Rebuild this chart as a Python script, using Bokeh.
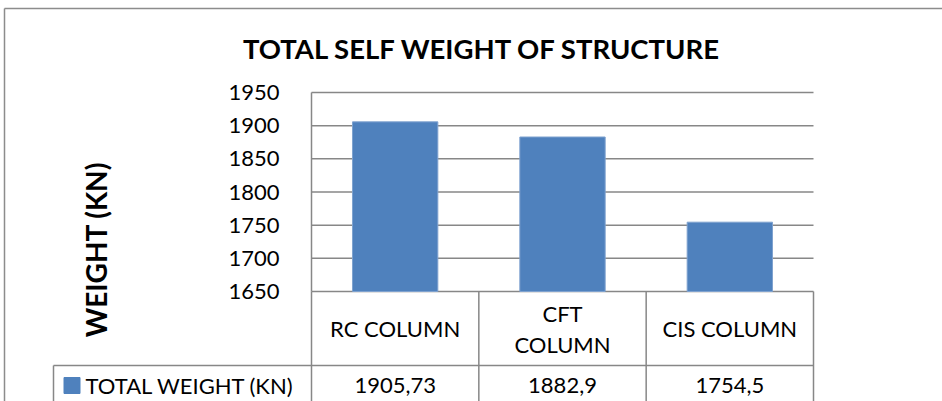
from bokeh.plotting import figure
from bokeh.models import Range1d, FixedTicker
from bokeh.core.properties import value
from bokeh.embed import file_html
from bokeh.resources import INLINE
import math

# ---- data ----
categories = ["RC COLUMN", "CFT COLUMN", "CIS COLUMN"]
table_lines = [["RC COLUMN"], ["CFT", "COLUMN"], ["CIS COLUMN"]]
weights = [1905.73, 1882.9, 1754.5]
value_labels = ["1905,73", "1882,9", "1754,5"]
y_ticks = [1650, 1700, 1750, 1800, 1850, 1900, 1950]
series_name = "TOTAL WEIGHT (KN)"
title_text = "TOTAL SELF WEIGHT OF STRUCTURE"
y_title = "WEIGHT (KN)"

# ---- layout (page px) ----
W, H = 942, 401
PL, PR, PT, PB = 311, 813, 92, 291      # plot area
GRID = "#878787"
BAR = "#4F81BD"
FONT = "Lato"

n = len(categories)
xs = list(range(n))
unit = (PR - PL) / n
x0 = -0.5 - PL / unit
x1 = n - 0.5 + (W - PR) / unit
ymin, ymax = y_ticks[0], y_ticks[-1]
upp = (ymax - ymin) / (PB - PT)
y0 = ymin - (H - PB) * upp
y1 = ymax + PT * upp

p = figure(width=W, height=H, x_range=Range1d(x0, x1), y_range=Range1d(y0, y1),
           output_backend="svg", toolbar_location=None,
           min_border=0, min_border_left=0, min_border_right=0,
           min_border_top=0, min_border_bottom=0)
p.extra_x_ranges = {"px": Range1d(0, W)}
p.extra_y_ranges = {"px": Range1d(H, 0)}
p.outline_line_color = None
p.background_fill_color = "white"
p.border_fill_color = "white"
p.xaxis.visible = False
p.xgrid.visible = False
p.ygrid.visible = False

ax = p.yaxis[0]
ax.fixed_location = -0.5
ax.bounds = (ymin, ymax)
ax.ticker = FixedTicker(ticks=y_ticks)
ax.axis_line_color = GRID
ax.axis_line_width = 1.5
ax.major_tick_line_color = None
ax.minor_tick_line_color = None
ax.major_label_text_font = FONT
ax.major_label_text_font_size = "22px"
ax.major_label_text_color = "black"
ax.major_label_standoff = 26

# gridlines at the tick values
p.segment(x0=[-0.5] * len(y_ticks), x1=[n - 0.5] * len(y_ticks), y0=y_ticks, y1=y_ticks,
          line_color=GRID, line_width=1.5)

# bars
p.vbar(x=xs, top=weights, bottom=ymin, width=0.51,
       fill_color=BAR, line_color="#7fa2cf", line_width=1)

# outer chart border
p.segment(x0=[4, 4], y0=[8, 8], x1=[W + 5, 4], y1=[8, H + 5],
          x_range_name="px", y_range_name="px", line_color="#8c8c8c", line_width=1.5)

# title and y title
p.text(x=[482], y=[48], text=[title_text], x_range_name="px", y_range_name="px",
       text_font=value(FONT), text_font_style="bold", text_font_size="27.5px",
       text_align="center", text_baseline="middle", text_color="black")
p.text(x=[95], y=[249], text=[y_title], x_range_name="px", y_range_name="px",
       angle=math.pi / 2,
       text_font=value(FONT), text_font_style="bold", text_font_size="28px",
       text_align="center", text_baseline="middle", text_color="black")

# data table: column borders
bounds = [i - 0.5 for i in range(n + 1)]
p.segment(x0=bounds, x1=bounds, y0=[PB] * len(bounds), y1=[H + 5] * len(bounds),
          y_range_name="px", line_color=GRID, line_width=1.5)
# row separator
p.segment(x0=[53], x1=[PR], y0=[365], y1=[365], x_range_name="px", y_range_name="px",
          line_color=GRID, line_width=1.5)
p.segment(x0=[53], x1=[53], y0=[365], y1=[H + 5], x_range_name="px", y_range_name="px",
          line_color=GRID, line_width=1.5)

# category cells
tx, ty, tt = [], [], []
for i, lines in enumerate(table_lines):
    k = len(lines)
    for j, t in enumerate(lines):
        tx.append(i)
        ty.append(328 - (k - 1) * 15.5 + j * 31)
        tt.append(t)
p.text(x=tx, y=ty, text=tt, y_range_name="px",
       text_font=value(FONT), text_font_size="22px",
       text_align="center", text_baseline="middle", text_color="black")
# value cells
p.text(x=xs, y=[385] * n, text=value_labels, y_range_name="px",
       text_font=value(FONT), text_font_size="22px",
       text_align="center", text_baseline="middle", text_color="black")
# legend key
p.rect(x=[71.5], y=[385], width=16, height=16, x_range_name="px", y_range_name="px",
       fill_color=BAR, line_color=BAR)
p.text(x=[85], y=[385], text=[series_name], x_range_name="px", y_range_name="px",
       text_font=value(FONT), text_font_size="22px",
       text_align="left", text_baseline="middle", text_color="black")

open("out.html", "w").write(file_html(p, INLINE))
